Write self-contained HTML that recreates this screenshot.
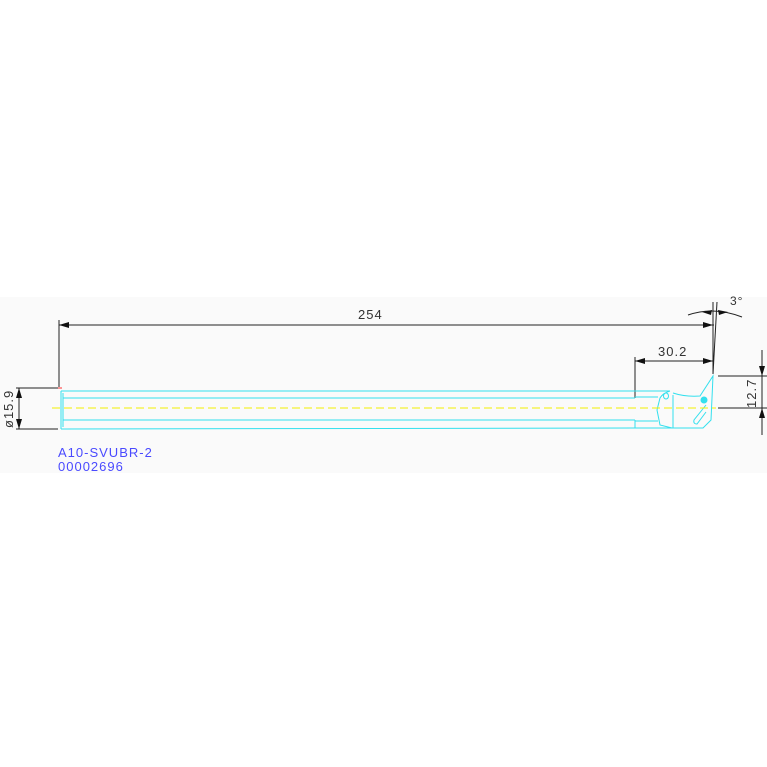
<!DOCTYPE html>
<html><head><style>
html,body{margin:0;padding:0;background:#fff;width:767px;height:767px;overflow:hidden}
svg{display:block}
text{font-family:"Liberation Sans",sans-serif}
</style></head><body>
<svg width="767" height="767" viewBox="0 0 767 767" xmlns="http://www.w3.org/2000/svg">
<rect x="0" y="297" width="767" height="176" fill="#fafafa"/>
<g stroke="#222" stroke-width="1" fill="none">
<line x1="59" y1="320" x2="59" y2="387"/>
<line x1="59" y1="325" x2="714" y2="325"/>
<line x1="635" y1="357" x2="635" y2="398"/>
<line x1="635" y1="361" x2="713" y2="361"/>
<line x1="713" y1="302" x2="713" y2="374"/>
<line x1="717" y1="302" x2="713" y2="374"/>
<path d="M688 315 Q714 306 742 317"/>
<line x1="16" y1="388" x2="58" y2="388"/>
<line x1="16" y1="429" x2="58" y2="429"/>
<line x1="19" y1="388" x2="19" y2="429"/>
<line x1="718" y1="376" x2="767" y2="376"/>
<line x1="718" y1="408" x2="767" y2="408"/>
<line x1="762" y1="350" x2="762" y2="435"/>
</g>
<g fill="#111">
<polygon points="59,325 69,322 69,328"/>
<polygon points="713,325 703,322 703,328"/>
<polygon points="635,361 645,358 645,364"/>
<polygon points="713,361 703,358 703,364"/>
<polygon points="702,312 712,310 711,315"/>
<polygon points="728,312 718,310 719,315"/>
<polygon points="19,388 16,398 22,398"/>
<polygon points="19,429 16,419 22,419"/>
<polygon points="762,376 759,366 765,366"/>
<polygon points="762,408 759,418 765,418"/>
</g>
<g fill="#333" font-size="13" letter-spacing="1">
<text x="358" y="319">254</text>
<text x="658" y="356">30.2</text>
<text x="730" y="305" font-size="12">3°</text>
<text transform="translate(13,428) rotate(-90)">ø15.9</text>
<text transform="translate(756,408) rotate(-90)">12.7</text>
</g>
<line x1="58" y1="388" x2="62" y2="388" stroke="#f33"/>
<g stroke="#33e0ee" stroke-width="1" fill="none">
<path d="M61 391 L670 391 M61 429 L672 428 M61 391 L61 429 M63 393 L63 427"/>
<path d="M63 398 L635 398 M63 420 L635 420 M635 420 L635 428 M635 397 L658 397 M635 421 L658 421"/>
<path d="M670 391 Q663 393 660 398 L657 410 L660 425 L672 428 L703 428 L711 420 L713 376 L700 396 Q685 397 673 393"/>
<line x1="673" y1="395" x2="673" y2="428"/>
<ellipse cx="666" cy="396" rx="2.5" ry="3"/>
<path d="M706 405 L694 420 Q693 424 697 424 L706 412"/>
</g>
<circle cx="704" cy="400" r="3.5" fill="#33e0ee"/>
<line x1="52" y1="408" x2="716" y2="408" stroke="#f2f000" stroke-width="1" stroke-dasharray="8,4"/>
<g fill="#4a4aff" font-size="13" letter-spacing="1">
<text x="58" y="457">A10-SVUBR-2</text>
<text x="58" y="471">00002696</text>
</g>
</svg>
</body></html>
